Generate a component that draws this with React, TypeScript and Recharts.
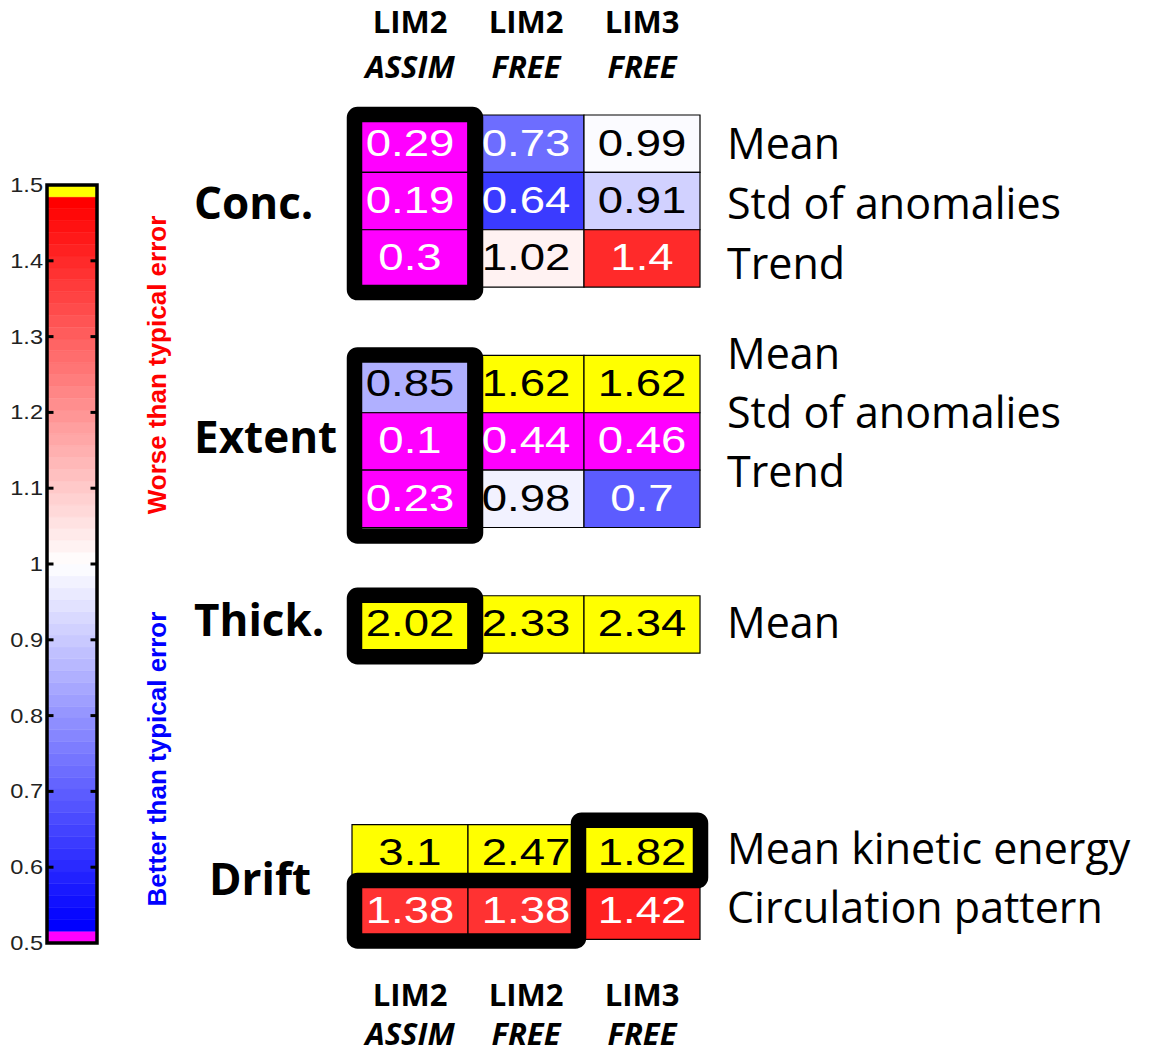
import React from 'react';
import { ScatterChart, XAxis, YAxis, ReferenceArea, ReferenceLine, Scatter } from 'recharts';

// ---------------- data ----------------
const MODELS = ['LIM2', 'LIM2', 'LIM3'];
const RUNS = ['ASSIM', 'FREE', 'FREE'];
const GROUPS = ['Conc.', 'Extent', 'Thick.', 'Drift'];
const CONC_METRICS = ['Mean', 'Std of anomalies', 'Trend'];
const EXTENT_METRICS = ['Mean', 'Std of anomalies', 'Trend'];
const THICK_METRICS = ['Mean'];
const DRIFT_METRICS = ['Mean kinetic energy', 'Circulation pattern'];
const CONC_VALUES = [
  [0.29, 0.73, 0.99],
  [0.19, 0.64, 0.91],
  [0.3, 1.02, 1.4],
];
const EXTENT_VALUES = [
  [0.85, 1.62, 1.62],
  [0.1, 0.44, 0.46],
  [0.23, 0.98, 0.7],
];
const THICK_VALUES = [[2.02, 2.33, 2.34]];
const DRIFT_VALUES = [
  [3.1, 2.47, 1.82],
  [1.38, 1.38, 1.42],
];
// best-score highlight boxes: group index, row range, column range
const BEST_BOXES = [
  { group: 0, row0: 0, row1: 3, col0: 0, col1: 1 },
  { group: 1, row0: 0, row1: 3, col0: 0, col1: 1 },
  { group: 2, row0: 0, row1: 1, col0: 0, col1: 1 },
  { group: 3, row0: 0, row1: 1, col0: 2, col1: 3 },
  { group: 3, row0: 1, row1: 2, col0: 0, col1: 2 },
];
const COLORBAR_TICKS = [0.5, 0.6, 0.7, 0.8, 0.9, 1.0, 1.1, 1.2, 1.3, 1.4, 1.5];
const COLORBAR_TEXT = ['Worse than typical error', 'Better than typical error'];

// ---------------- layout / style ----------------
const GROUP_METRICS = [CONC_METRICS, EXTENT_METRICS, THICK_METRICS, DRIFT_METRICS];
const GROUP_VALUES = [CONC_VALUES, EXTENT_VALUES, THICK_VALUES, DRIFT_VALUES];
const GROUP_START = [0, 4.19, 8.38, 12.37]; // in row units
const RIGHT_LABEL_SHIFT = [0.0, -0.53, -0.02, -0.08];
const RIGHT_LABEL_SPREAD = [0.05, 0.03, 0, 0.03];
const GROUP_LABEL_INDENT = [0, 0, 0, 15];
const GROUP_LABEL_DY = [18, 12, 12, 13];
const Y_MAX = 14.4;
const ROW_PX = 57.3;
const W = 1150;
const H = 1057;
const AX = 1; // axis thickness reserved by recharts
const PLOT_H = Y_MAX * ROW_PX;
const MAIN_MARGIN = { top: 115 - AX, right: 450 - AX, bottom: H - 115 - PLOT_H - AX, left: 352 - AX };
const CB_MARGIN = { top: 185, right: 103 - AX, bottom: 114, left: 47 - AX };
const CB_TEXT_POS = [1.2625, 0.7427];
const BOX_NUDGE = [
  { l: 2.5, r: 7.5, t: -0.5, b: 5.5 },
  { l: 2.5, r: 7.5, t: -0.5, b: 8.5 },
  { l: 2.5, r: 7.5, t: -0.5, b: 3.5 },
  { l: -5.5, r: 0.5, t: -4.5, b: -1.5 },
  { l: 2.5, r: -5.5, t: -1.5, b: 1.5 },
];
const NUM_FONT = "'Liberation Sans', Arial, Helvetica, sans-serif";
const LABEL_FONT = "'Open Sans', 'Noto Sans', sans-serif";
const N_BINS = 64;

function binColor(i: number): string {
  if (i <= 0) return '#ff00ff';
  if (i >= N_BINS - 1) return '#ffff00';
  const t = (i - 1) / (N_BINS - 3);
  if (t < 0.5) {
    const c = Math.round(255 * (t / 0.5));
    return `rgb(${c},${c},255)`;
  }
  const c = Math.round(255 * (1 - (t - 0.5) / 0.5));
  return `rgb(255,${c},${c})`;
}
function valueColor(v: number): string {
  const i = Math.max(0, Math.min(N_BINS - 1, Math.floor((v - 0.5) * N_BINS)));
  return binColor(i);
}
function textColor(v: number): string {
  if (v < 0.5) return '#fff';
  if (v > 1.5) return '#000';
  return Math.abs(v - 1) > 0.25 ? '#fff' : '#000';
}

type Cell = { x: number; y: number; g: number; r: number; c: number; v: number };
const CELLS: Cell[] = [];
GROUP_VALUES.forEach((rows, g) =>
  rows.forEach((row, r) =>
    row.forEach((v, c) => CELLS.push({ x: c + 0.5, y: GROUP_START[g] + r + 0.5, g, r, c, v }))
  )
);
const GROUP_TICKS = GROUP_VALUES.map((rows, g) => GROUP_START[g] + rows.length / 2);
const ROW_TICKS: { pos: number; label: string }[] = [];
GROUP_METRICS.forEach((ms, g) =>
  ms.forEach((m, r) =>
    ROW_TICKS.push({
      pos: GROUP_START[g] + r * (1 + RIGHT_LABEL_SPREAD[g]) + 0.5 + RIGHT_LABEL_SHIFT[g],
      label: m,
    })
  )
);
const BINS = Array.from({ length: N_BINS }, (_, i) => ({
  y1: 0.5 + i / N_BINS,
  y2: 0.5 + (i + 1) / N_BINS,
  color: binColor(i),
}));

const findIdx = (arr: number[], v: number) => arr.findIndex((a) => Math.abs(a - v) < 1e-6);

const HeaderTick = (props: any) => {
  const { x, y, payload } = props;
  const i = Math.floor(payload.value);
  const lines = [
    { dy: -82, text: MODELS[i], italic: false },
    { dy: -37, text: RUNS[i], italic: true },
    { dy: PLOT_H + 66, text: MODELS[i], italic: false },
    { dy: PLOT_H + 105, text: RUNS[i], italic: true },
  ];
  return (
    <g>
      {lines.map((l, k) => (
        <text
          key={k}
          x={x}
          y={y + l.dy}
          textAnchor="middle"
          fontFamily={LABEL_FONT}
          fontWeight={700}
          fontStyle={l.italic ? 'italic' : 'normal'}
          fontSize={31}
          fill="#000"
        >
          {l.text}
        </text>
      ))}
    </g>
  );
};

const GroupTick = (props: any) => {
  const { x, y, payload } = props;
  const i = findIdx(GROUP_TICKS, payload.value);
  if (i < 0) return null;
  return (
    <text
      x={x - 158 + GROUP_LABEL_INDENT[i]}
      y={y + GROUP_LABEL_DY[i]}
      textAnchor="start"
      fontFamily={LABEL_FONT}
      fontWeight={700}
      fontSize={44}
      fill="#000"
    >
      {GROUPS[i]}
    </text>
  );
};

const RowTick = (props: any) => {
  const { x, y, payload } = props;
  const i = findIdx(ROW_TICKS.map((t) => t.pos), payload.value);
  if (i < 0) return null;
  return (
    <text x={x + 27} y={y + 15} textAnchor="start" fontFamily={LABEL_FONT} fontSize={43} fill="#000">
      {ROW_TICKS[i].label}
    </text>
  );
};

const CellText = (props: any) => {
  const { cx, cy, payload } = props;
  if (cx == null || cy == null) return null;
  return (
    <text
      transform={`translate(${cx} ${cy + 12}) scale(1.23 1)`}
      x={0}
      y={0}
      textAnchor="middle"
      fontFamily={NUM_FONT}
      fontSize={37}
      fill={textColor(payload.v)}
    >
      {String(payload.v)}
    </text>
  );
};

const CbTick = (props: any) => {
  const { x, y, payload } = props;
  const label = Number(Number(payload.value).toFixed(1)).toString();
  return (
    <text
      transform={`translate(${x - 4} ${y + 7}) scale(1.18 1)`}
      textAnchor="end"
      fontFamily={NUM_FONT}
      fontSize={20}
      fill="#222"
    >
      {label}
    </text>
  );
};

const CbTextTick = (props: any) => {
  const { x, y, payload } = props;
  const i = findIdx(CB_TEXT_POS, payload.value);
  if (i < 0) return null;
  return (
    <text
      transform={`translate(${x + 69} ${y}) rotate(-90)`}
      textAnchor="middle"
      fontFamily={NUM_FONT}
      fontWeight={700}
      fontSize={26}
      fill={i === 0 ? '#ff0000' : '#0000ff'}
    >
      {COLORBAR_TEXT[i]}
    </text>
  );
};

export default function App() {
  return (
    <div style={{ position: 'absolute', left: 0, top: 0, width: W, height: H, background: '#fff' }}>
      <div style={{ position: 'absolute', left: 0, top: 0 }}>
        <ScatterChart width={200} height={H} margin={CB_MARGIN}>
          <XAxis xAxisId="cb" type="number" dataKey="x" domain={[0, 1]} hide allowDataOverflow />
          <YAxis
            yAxisId="cb"
            type="number"
            dataKey="y"
            domain={[0.5, 1.5]}
            ticks={COLORBAR_TICKS}
            interval={0}
            width={AX}
            axisLine={false}
            tickLine={false}
            tickSize={0}
            tickMargin={0}
            tick={CbTick}
            allowDataOverflow
          />
          <YAxis
            yAxisId="txt"
            orientation="right"
            type="number"
            domain={[0.5, 1.5]}
            ticks={CB_TEXT_POS}
            interval={0}
            width={AX}
            axisLine={false}
            tickLine={false}
            tickSize={0}
            tickMargin={0}
            tick={CbTextTick}
            allowDataOverflow
          />
          {BINS.map((b, i) => (
            <ReferenceArea
              key={'bin' + i}
              xAxisId="cb"
              yAxisId="cb"
              x1={0}
              x2={1}
              y1={b.y1}
              y2={b.y2}
              fill={b.color}
              fillOpacity={1}
              stroke={b.color}
              strokeWidth={0.5}
              ifOverflow="visible"
            />
          ))}
          {COLORBAR_TICKS.slice(1, -1).map((t) => (
            <ReferenceLine
              key={'tl' + t}
              xAxisId="cb"
              yAxisId="cb"
              segment={[{ x: 0, y: t }, { x: 0.13, y: t }]}
              stroke="#000"
              strokeWidth={3}
              ifOverflow="visible"
            />
          ))}
          {COLORBAR_TICKS.slice(1, -1).map((t) => (
            <ReferenceLine
              key={'tr' + t}
              xAxisId="cb"
              yAxisId="cb"
              segment={[{ x: 0.87, y: t }, { x: 1, y: t }]}
              stroke="#000"
              strokeWidth={3}
              ifOverflow="visible"
            />
          ))}
          <ReferenceArea
            xAxisId="cb"
            yAxisId="cb"
            x1={0}
            x2={1}
            y1={0.5}
            y2={1.5}
            fill="none"
            stroke="#000"
            strokeWidth={3.5}
            ifOverflow="visible"
          />
        </ScatterChart>
      </div>
      <div style={{ position: 'absolute', left: 0, top: 0 }}>
        <ScatterChart width={W} height={H} margin={MAIN_MARGIN}>
          <XAxis
            xAxisId="top"
            orientation="top"
            type="number"
            dataKey="x"
            domain={[0, 3]}
            ticks={[0.5, 1.5, 2.5]}
            interval={0}
            height={AX}
            axisLine={false}
            tickLine={false}
            tickSize={0}
            tickMargin={0}
            tick={HeaderTick}
            allowDataOverflow
          />
          <YAxis
            yAxisId="left"
            orientation="left"
            type="number"
            dataKey="y"
            domain={[0, Y_MAX]}
            reversed
            ticks={GROUP_TICKS}
            interval={0}
            width={AX}
            axisLine={false}
            tickLine={false}
            tickSize={0}
            tickMargin={0}
            tick={GroupTick}
            allowDataOverflow
          />
          <YAxis
            yAxisId="right"
            orientation="right"
            type="number"
            domain={[0, Y_MAX]}
            reversed
            ticks={ROW_TICKS.map((t) => t.pos)}
            interval={0}
            width={AX}
            axisLine={false}
            tickLine={false}
            tickSize={0}
            tickMargin={0}
            tick={RowTick}
            allowDataOverflow
          />
          {CELLS.map((c, i) => (
            <ReferenceArea
              key={'cell' + i}
              xAxisId="top"
              yAxisId="left"
              x1={c.c}
              x2={c.c + 1}
              y1={GROUP_START[c.g] + c.r}
              y2={GROUP_START[c.g] + c.r + 1}
              fill={valueColor(c.v)}
              fillOpacity={1}
              stroke="#000"
              strokeWidth={1.2}
              ifOverflow="visible"
            />
          ))}
          <Scatter xAxisId="top" yAxisId="left" data={CELLS} isAnimationActive={false} shape={CellText} />
          {BEST_BOXES.map((b, i) => {
            const n = BOX_NUDGE[i];
            return (
              <ReferenceArea
                key={'box' + i}
                xAxisId="top"
                yAxisId="left"
                x1={b.col0}
                x2={b.col1}
                y1={GROUP_START[b.group] + b.row0}
                y2={GROUP_START[b.group] + b.row1}
                ifOverflow="visible"
                shape={(p: any) => (
                  <rect
                    x={p.x + n.l}
                    y={p.y + n.t}
                    width={p.width - n.l + n.r}
                    height={p.height - n.t + n.b}
                    rx={3}
                    ry={3}
                    fill="none"
                    stroke="#000"
                    strokeWidth={15.5}
                  />
                )}
              />
            );
          })}
        </ScatterChart>
      </div>
    </div>
  );
}
